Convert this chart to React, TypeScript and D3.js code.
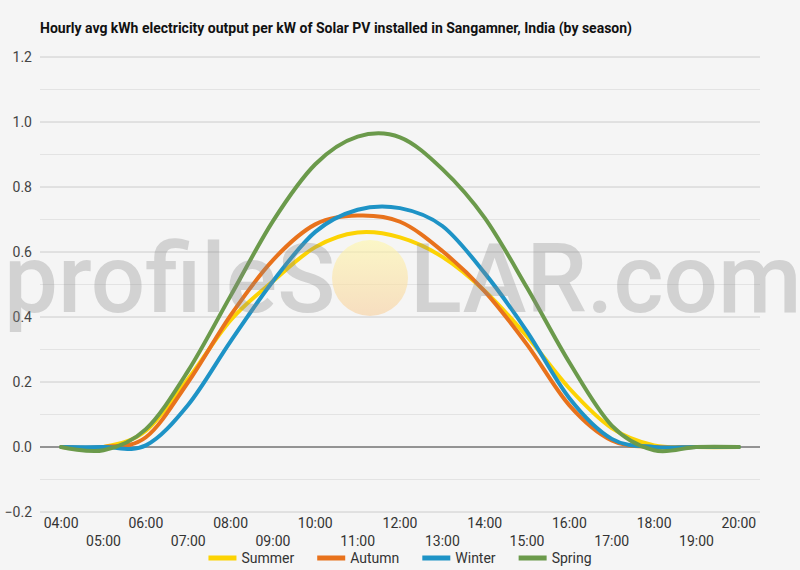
import React, { useEffect, useRef } from 'react';
import * as d3 from 'd3';

const hours = ['04:00','05:00','06:00','07:00','08:00','09:00','10:00','11:00','12:00','13:00','14:00','15:00','16:00','17:00','18:00','19:00','20:00'];
const summer = [0, 0, 0.05, 0.21, 0.39, 0.51, 0.615, 0.66, 0.645, 0.585, 0.48, 0.34, 0.18, 0.058, 0.005, 0, 0];
const autumn = [0, 0, 0.03, 0.2, 0.405, 0.575, 0.685, 0.712, 0.693, 0.603, 0.479, 0.315, 0.128, 0.02, 0, 0, 0];
const winter = [0, 0, 0.005, 0.13, 0.325, 0.51, 0.662, 0.73, 0.735, 0.68, 0.535, 0.355, 0.15, 0.025, 0, 0, 0];
const spring = [0, -0.01, 0.055, 0.235, 0.465, 0.695, 0.87, 0.955, 0.953, 0.855, 0.705, 0.49, 0.26, 0.066, -0.01, 0, 0];
const seriesNames = ['Summer', 'Autumn', 'Winter', 'Spring'];
const seriesColors = ['#fcd303', '#e8721c', '#1e93c6', '#6b9a4b'];
const majorTicks = [-0.2, 0, 0.2, 0.4, 0.6, 0.8, 1.0, 1.2];
const minorTicks = [-0.1, 0.1, 0.3, 0.5, 0.7, 0.9, 1.1];
const title = 'Hourly avg kWh electricity output per kW of Solar PV installed in Sangamner, India (by season)';

const W = 800, H = 570;
const M = { left: 40, right: 40, top: 57, bottom: 58 };
const FONT = 'Roboto, sans-serif';

export default function App() {
  const ref = useRef<SVGSVGElement>(null);
  useEffect(() => {
    const svg = d3.select(ref.current);
    svg.selectAll('*').remove();
    const values = [summer, autumn, winter, spring];

    svg.append('rect').attr('width', W).attr('height', H).attr('fill', '#f5f5f5');

    const x = d3.scaleBand<string>().domain(hours).range([M.left, W - M.right]);
    const cx = (h: string) => (x(h) as number) + x.bandwidth() / 2;
    const y = d3.scaleLinear().domain([-0.2, 1.2]).range([H - M.bottom, M.top]);

    svg.append('text').attr('x', 40).attr('y', 33).attr('font-family', FONT).attr('font-weight', 700)
      .attr('font-size', 14).attr('fill', '#111').text(title);

    const g = svg.append('g');
    g.selectAll('.minor').data(minorTicks).join('line')
      .attr('x1', M.left).attr('x2', W - M.right)
      .attr('y1', d => y(d)).attr('y2', d => y(d))
      .attr('stroke', '#e3e3e3').attr('stroke-width', 1);
    g.selectAll('.major').data(majorTicks).join('line')
      .attr('x1', M.left).attr('x2', W - M.right)
      .attr('y1', d => y(d)).attr('y2', d => y(d))
      .attr('stroke', d => (d === 0 ? '#333' : '#cccccc')).attr('stroke-width', 1);
    g.selectAll('.ylab').data(majorTicks).join('text')
      .attr('x', 32).attr('y', d => y(d) + 5).attr('text-anchor', 'end')
      .attr('font-family', FONT).attr('font-size', 14).attr('fill', '#444')
      .text(d => d3.format('.1f')(d));

    g.selectAll('.xlab').data(hours).join('text')
      .attr('x', d => cx(d)).attr('y', (d, i) => (i % 2 === 0 ? 528 : 546)).attr('text-anchor', 'middle')
      .attr('font-family', FONT).attr('font-size', 14).attr('fill', '#333')
      .text(d => d);

    const line = d3.line<number>()
      .x((d, i) => cx(hours[i]))
      .y(d => y(d))
      .curve(d3.curveCardinal.tension(0));
    values.forEach((vals, k) => {
      svg.append('path').attr('d', line(vals) as string).attr('fill', 'none')
        .attr('stroke', seriesColors[k]).attr('stroke-width', 4).attr('stroke-linecap', 'round')
        .attr('stroke-linejoin', 'round');
    });

    // watermark
    const wm = svg.append('g').attr('pointer-events', 'none');
    const defs = svg.append('defs');
    const grad = defs.append('linearGradient').attr('id', 'sun').attr('x1', 0).attr('x2', 0).attr('y1', 0).attr('y2', 1);
    grad.append('stop').attr('offset', '0%').attr('stop-color', '#fff7a8');
    grad.append('stop').attr('offset', '100%').attr('stop-color', '#f8cf9c');
    wm.append('circle').attr('cx', 370).attr('cy', 278).attr('r', 38).attr('fill', 'url(#sun)').attr('opacity', 0.6);
    wm.append('text').attr('x', 4).attr('y', 312).attr('font-family', FONT).attr('font-weight', 500)
      .attr('font-size', 96).attr('fill', '#8a8a8a').attr('opacity', 0.32).text('profileS');
    wm.append('text').attr('x', 410).attr('y', 312).attr('font-family', FONT).attr('font-weight', 500)
      .attr('font-size', 96).attr('fill', '#8a8a8a').attr('opacity', 0.32).text('LAR.com');

    // legend
    const lg = svg.append('g');
    const items = seriesNames.map((n, k) => {
      const it = lg.append('g');
      it.append('rect').attr('x', 0).attr('y', -2.5).attr('width', 28).attr('height', 5).attr('fill', seriesColors[k]);
      const tx = it.append('text').attr('x', 33).attr('y', 5).attr('font-family', FONT).attr('font-size', 14)
        .attr('fill', '#333').text(n);
      const w = 33 + ((tx.node() as SVGTextElement).getComputedTextLength());
      return { it, w };
    });
    const gap = 23;
    const total = items.reduce((s, d) => s + d.w, 0) + gap * (items.length - 1);
    let xx = 400 - total / 2;
    items.forEach(d => { d.it.attr('transform', `translate(${xx},558)`); xx += d.w + gap; });
  }, []);
  return (
    <svg ref={ref} width={W} height={H} style={{ position: 'absolute', left: 0, top: 0, display: 'block' }} />
  );
}
